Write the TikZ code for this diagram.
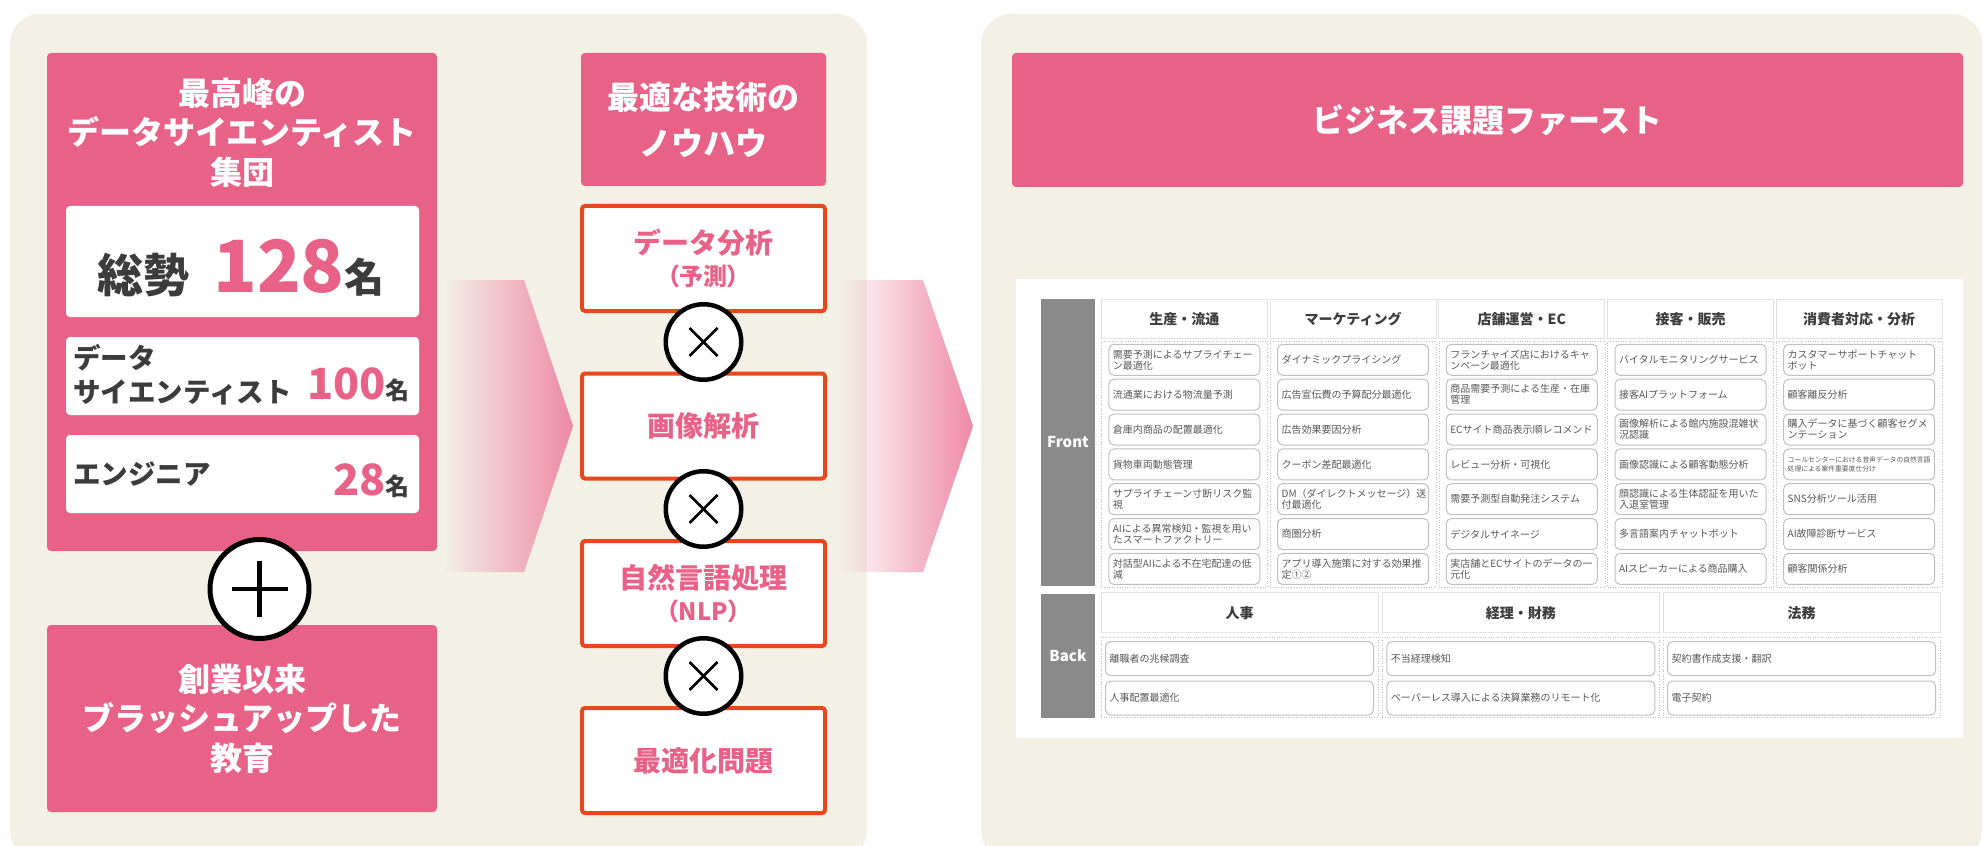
\documentclass[tikz,border=0pt]{standalone}
\usepackage{fontspec}
\setmainfont{Noto Sans CJK JP}
\usetikzlibrary{fadings}
\definecolor{beige}{RGB}{243,240,230}
\definecolor{rosa}{RGB}{232,98,136}
\definecolor{rosalt}{RGB}{238,137,167}
\definecolor{rojo}{RGB}{232,72,30}
\definecolor{tinta}{RGB}{60,60,60}
\definecolor{gris}{RGB}{138,138,138}
\definecolor{itemline}{RGB}{192,192,192}
\definecolor{hdrline}{RGB}{226,226,226}
\definecolor{itemtxt}{RGB}{88,88,88}
\tikzfading[name=chevfade, left color=transparent!100, middle color=transparent!0, right color=transparent!0]
\begin{document}
\begin{tikzpicture}[x=0.5pt,y=-0.5pt,
	pinkbox/.style={fill=rosa, rounded corners=2pt, inner sep=0pt},
	whitebox/.style={fill=white, rounded corners=2pt, inner sep=0pt, minimum width=176.5pt},
	ttl/.style={text=white, align=center, inner sep=0pt, font={\bfseries\fontsize{16pt}{19.75pt}\selectfont}},
	redbox/.style={draw=rojo, line width=2pt, fill=white, rounded corners=1.5pt, minimum width=121.5pt, minimum height=52.5pt, inner sep=0pt, text=rosa, align=center, font={\bfseries\fontsize{14pt}{16.25pt}\selectfont}},
	times/.style={circle, draw, line width=2.25pt, fill=white, minimum size=37.75pt, inner sep=0pt},
	chev/.style={fill=rosalt, path fading=chevfade},
	lab/.style={fill=gris, text=white, inner sep=0pt, minimum width=27pt, font={\bfseries\fontsize{7.5pt}{9pt}\selectfont}},
	hdr/.style={draw=hdrline, fill=white, minimum height=19.5pt, inner sep=0pt, text=tinta, font={\bfseries\fontsize{7pt}{8pt}\selectfont}},
	dots/.style={draw=itemline, densely dotted, line width=0.3pt, inner sep=0pt},
	item/.style={draw=itemline, line width=0.5pt, fill=white, rounded corners=2.5pt, minimum width=75.5pt, minimum height=15.5pt, inner sep=0pt, text width=71.5pt, align=left, text=itemtxt, font={\fontsize{5pt}{5.5pt}\selectfont}},
	bitem/.style={item, minimum width=134pt, minimum height=17pt, text width=130pt}]
	\useasboundingbox (0,0) rectangle (1984,845);
	\clip (0,0) rectangle (1984,845);
	\fill[white] (0,0) rectangle (1984,845);
	\fill[beige, rounded corners=15pt] (10,14) rectangle (867,860);
	\fill[beige, rounded corners=15pt] (981,14) rectangle (1982,860);

	\node[pinkbox, minimum width=195pt, minimum height=249pt] (crew) at (242,302) {};
	\node[ttl] (crewttl) at (242,132.5) {最高峰の\\データサイエンティスト\\集団};
	\node[whitebox, minimum height=55.5pt] (total) at (242.5,261.5) {};
	\node[anchor=base, inner sep=0pt, font=\bfseries] (totnum) at (241,292) {{\color{tinta}\fontsize{23pt}{23pt}\selectfont 総勢}\hspace{12pt}{\color{rosa}\fontsize{36pt}{36pt}\selectfont 128}{\color{tinta}\fontsize{20pt}{20pt}\selectfont 名}};
	\node[whitebox, minimum height=39pt] (ds) at (242.5,376) {};
	\node[anchor=west, inner sep=0pt, align=left, text=tinta, font={\bfseries\fontsize{13.75pt}{17pt}\selectfont}] (dsname) at (73,375) {データ\\サイエンティスト};
	\node[anchor=base east, inner sep=0pt, font=\bfseries] (dsnum) at (410,399) {{\color{rosa}\fontsize{21.5pt}{21.5pt}\selectfont 100}{\color{tinta}\fontsize{12pt}{12pt}\selectfont 名}};
	\node[whitebox, minimum height=39pt] (eng) at (242.5,474) {};
	\node[anchor=west, inner sep=0pt, text=tinta, font={\bfseries\fontsize{13.75pt}{17pt}\selectfont}] (engname) at (73,474) {エンジニア};
	\node[anchor=base east, inner sep=0pt, font=\bfseries] (engnum) at (410,495) {{\color{rosa}\fontsize{21.5pt}{21.5pt}\selectfont 28}{\color{tinta}\fontsize{12pt}{12pt}\selectfont 名}};
	\node[pinkbox, ttl, minimum width=195pt, minimum height=93.5pt] (edu) at (242,718.5) {創業以来\\ブラッシュアップした\\教育};
	\node[circle, draw, line width=2.5pt, fill=white, minimum size=49.5pt, inner sep=0pt] (plus) at (259.5,589) {};
	\draw[line width=2.25pt] ([xshift=-14pt]plus.center) -- ([xshift=14pt]plus.center);
	\draw[line width=2.25pt] ([yshift=-14pt]plus.center) -- ([yshift=14pt]plus.center);

	\fill[chev] (444,280) -- (524,280) -- (573,426) -- (524,572) -- (444,572) -- cycle;
	\fill[chev] (839,280) -- (923,280) -- (973,426) -- (923,572) -- (839,572) -- cycle;

	\node[pinkbox, ttl, minimum width=122.5pt, minimum height=66.5pt, font={\bfseries\fontsize{16pt}{23pt}\selectfont}] (know) at (703.5,119.5) {最適な技術の\\ノウハウ};
	\node[redbox] (t1) at (703.5,258.5) {データ分析\\{\fontsize{12pt}{12pt}\selectfont\addfontfeature{RawFeature=+palt}（予測）}};
	\node[redbox] (t2) at (703.5,426) {画像解析};
	\node[redbox] (t3) at (703.5,593.5) {自然言語処理\\{\fontsize{12pt}{12pt}\selectfont\addfontfeature{RawFeature=+palt}（NLP）}};
	\node[redbox] (t4) at (703.5,760.5) {最適化問題};
	\node[times] (x1) at (703.5,342) {};
	\node[times] (x2) at (703.5,509) {};
	\node[times] (x3) at (703.5,676) {};
	\draw[line width=1.4pt] ([shift={(-7pt,-7pt)}]x1.center) -- ([shift={(7pt,7pt)}]x1.center);
	\draw[line width=1.4pt] ([shift={(-7pt,7pt)}]x1.center) -- ([shift={(7pt,-7pt)}]x1.center);
	\draw[line width=1.4pt] ([shift={(-7pt,-7pt)}]x2.center) -- ([shift={(7pt,7pt)}]x2.center);
	\draw[line width=1.4pt] ([shift={(-7pt,7pt)}]x2.center) -- ([shift={(7pt,-7pt)}]x2.center);
	\draw[line width=1.4pt] ([shift={(-7pt,-7pt)}]x3.center) -- ([shift={(7pt,7pt)}]x3.center);
	\draw[line width=1.4pt] ([shift={(-7pt,7pt)}]x3.center) -- ([shift={(7pt,-7pt)}]x3.center);

	\node[pinkbox, ttl, minimum width=475.5pt, minimum height=67pt] (first) at (1487.5,120) {ビジネス課題ファースト};
	\fill[white] (1016,279) rectangle (1963,738);

	\node[lab, minimum height=143.5pt] (front) at (1068,442.5) {Front};
	\node[lab, minimum height=62pt] (back) at (1068,656) {Back};

	\node[hdr, minimum width=83pt] (h1) at (1184.4,318.8) {生産・流通};
	\node[hdr, minimum width=83pt] (h2) at (1353.1,318.8) {マーケティング};
	\node[hdr, minimum width=83pt] (h3) at (1521.8,318.8) {店舗運営・EC};
	\node[hdr, minimum width=83pt] (h4) at (1690.5,318.8) {接客・販売};
	\node[hdr, minimum width=83pt] (h5) at (1859.2,318.8) {消費者対応・分析};
	\node[dots, minimum width=83pt, minimum height=123pt] (d1) at (1184.4,464) {};
	\node[dots, minimum width=83pt, minimum height=123pt] (d2) at (1353.1,464) {};
	\node[dots, minimum width=83pt, minimum height=123pt] (d3) at (1521.8,464) {};
	\node[dots, minimum width=83pt, minimum height=123pt] (d4) at (1690.5,464) {};
	\node[dots, minimum width=83pt, minimum height=123pt] (d5) at (1859.2,464) {};

	\node[item] (c1r1) at (1184.4,359.8) {需要予測によるサプライチェー\\ン最適化};
	\node[item] (c1r2) at (1184.4,394.7) {流通業における物流量予測};
	\node[item] (c1r3) at (1184.4,429.5) {倉庫内商品の配置最適化};
	\node[item] (c1r4) at (1184.4,464.4) {貨物車両動態管理};
	\node[item] (c1r5) at (1184.4,499.2) {サプライチェーン寸断リスク監\\視};
	\node[item] (c1r6) at (1184.4,534.1) {AIによる異常検知・監視を用い\\たスマートファクトリー};
	\node[item] (c1r7) at (1184.4,568.9) {対話型AIによる不在宅配達の低\\減};

	\node[item] (c2r1) at (1353.1,359.8) {ダイナミックプライシング};
	\node[item] (c2r2) at (1353.1,394.7) {広告宣伝費の予算配分最適化};
	\node[item] (c2r3) at (1353.1,429.5) {広告効果要因分析};
	\node[item] (c2r4) at (1353.1,464.4) {クーポン差配最適化};
	\node[item] (c2r5) at (1353.1,499.2) {DM（ダイレクトメッセージ）送\\付最適化};
	\node[item] (c2r6) at (1353.1,534.1) {商圏分析};
	\node[item] (c2r7) at (1353.1,568.9) {アプリ導入施策に対する効果推\\定①②};

	\node[item] (c3r1) at (1521.8,359.8) {フランチャイズ店におけるキャ\\ンペーン最適化};
	\node[item] (c3r2) at (1521.8,394.7) {商品需要予測による生産・在庫\\管理};
	\node[item] (c3r3) at (1521.8,429.5) {ECサイト商品表示順レコメンド};
	\node[item] (c3r4) at (1521.8,464.4) {レビュー分析・可視化};
	\node[item] (c3r5) at (1521.8,499.2) {需要予測型自動発注システム};
	\node[item] (c3r6) at (1521.8,534.1) {デジタルサイネージ};
	\node[item] (c3r7) at (1521.8,568.9) {実店舗とECサイトのデータの一\\元化};

	\node[item] (c4r1) at (1690.5,359.8) {バイタルモニタリングサービス};
	\node[item] (c4r2) at (1690.5,394.7) {接客AIプラットフォーム};
	\node[item] (c4r3) at (1690.5,429.5) {画像解析による館内施設混雑状\\況認識};
	\node[item] (c4r4) at (1690.5,464.4) {画像認識による顧客動態分析};
	\node[item] (c4r5) at (1690.5,499.2) {顔認識による生体認証を用いた\\入退室管理};
	\node[item] (c4r6) at (1690.5,534.1) {多言語案内チャットボット};
	\node[item] (c4r7) at (1690.5,568.9) {AIスピーカーによる商品購入};

	\node[item] (c5r1) at (1859.2,359.8) {カスタマーサポートチャット\\ボット};
	\node[item] (c5r2) at (1859.2,394.7) {顧客離反分析};
	\node[item] (c5r3) at (1859.2,429.5) {購入データに基づく顧客セグメ\\ンテーション};
	\node[item, font={\fontsize{3.4pt}{4.6pt}\selectfont}] (c5r4) at (1859.2,464.4) {コールセンターにおける音声データの自然言語\\処理による案件重要度仕分け};
	\node[item] (c5r5) at (1859.2,499.2) {SNS分析ツール活用};
	\node[item] (c5r6) at (1859.2,534.1) {AI故障診断サービス};
	\node[item] (c5r7) at (1859.2,568.9) {顧客関係分析};

	\node[hdr, minimum width=138.5pt, minimum height=20pt] (b1) at (1239.5,612.7) {人事};
	\node[hdr, minimum width=138.5pt, minimum height=20pt] (b2) at (1520.9,612.7) {経理・財務};
	\node[hdr, minimum width=138.5pt, minimum height=20pt] (b3) at (1801.5,612.7) {法務};
	\node[dots, minimum width=138.5pt, minimum height=40pt] (e1) at (1239.5,677) {};
	\node[dots, minimum width=138.5pt, minimum height=40pt] (e2) at (1520.9,677) {};
	\node[dots, minimum width=138.5pt, minimum height=40pt] (e3) at (1801.5,677) {};
	\node[bitem] (b1r1) at (1239.5,658.7) {離職者の兆候調査};
	\node[bitem] (b1r2) at (1239.5,698) {人事配置最適化};
	\node[bitem] (b2r1) at (1520.9,658.7) {不当経理検知};
	\node[bitem] (b2r2) at (1520.9,698) {ペーパーレス導入による決算業務のリモート化};
	\node[bitem] (b3r1) at (1801.5,658.7) {契約書作成支援・翻訳};
	\node[bitem] (b3r2) at (1801.5,698) {電子契約};
\end{tikzpicture}
\end{document}
